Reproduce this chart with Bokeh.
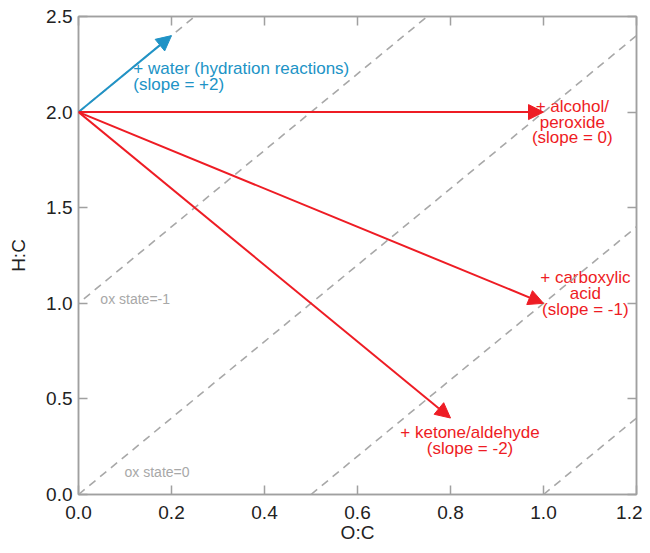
from bokeh.plotting import figure
from bokeh.models import (Range1d, LinearAxis, Arrow, NormalHead, ColumnDataSource,
                          Slope, NumeralTickFormatter, FixedTicker)
from bokeh.core.properties import value
from bokeh.embed import file_html
from bokeh.resources import INLINE

# Data
x_ticks = [0.0, 0.2, 0.4, 0.6, 0.8, 1.0, 1.2]
y_ticks = [0.0, 0.5, 1.0, 1.5, 2.0, 2.5]

ox_intercepts = [2, 1, 0, -1, -2]     # H:C = 2*O:C + c
ox_slope = 2

start_oc = 0.0
start_hc = 2.0
blue_end_oc = [0.2]
blue_end_hc = [2.4]
red_end_oc = [1.0, 1.0, 0.8]
red_end_hc = [2.0, 1.0, 0.4]

blue_label_x = [0.118]
blue_label_y = [2.188]
blue_labels = ["+ water (hydration reactions)\n(slope = +2)"]

red_label_x = [1.062, 1.090, 0.842]
red_label_y = [1.948, 1.052, 0.281]
red_labels = ["+ alcohol/\nperoxide\n(slope = 0)",
              "+ carboxylic\nacid\n(slope = -1)",
              "+ ketone/aldehyde\n(slope = -2)"]

ox_label_x = [0.047, 0.099]
ox_label_y = [1.02, 0.119]
ox_labels = ["ox state=-1", "ox state=0"]

BLUE = "#2093c6"
RED = "#ee1c24"
GRAY = "#a8a8a8"
AXGRAY = "#a0a0a0"
FONT = "Liberation Sans"

p = figure(width=642, height=545, output_backend="svg", toolbar_location=None,
           x_range=Range1d(0, 1.2), y_range=Range1d(0, 2.5),
           min_border_left=78, min_border_right=6, min_border_top=16, min_border_bottom=40,
           x_axis_label="O:C", y_axis_label="H:C")
p.grid.visible = False
p.outline_line_color = AXGRAY
p.outline_line_width = 1.5
p.background_fill_color = "white"

for ax in (p.xaxis[0], p.yaxis[0]):
    ax.axis_line_color = AXGRAY
    ax.axis_line_width = 1.5
    ax.major_tick_line_color = AXGRAY
    ax.major_tick_line_width = 1.5
    ax.major_tick_in = 9
    ax.major_tick_out = 0
    ax.minor_tick_line_color = None
    ax.major_label_text_font = FONT
    ax.major_label_text_font_size = "19px"
    ax.major_label_text_color = "#222222"
    ax.axis_label_text_font = FONT
    ax.axis_label_text_font_size = "19px"
    ax.axis_label_text_font_style = "normal"
    ax.axis_label_text_color = "#222222"
    ax.formatter = NumeralTickFormatter(format="0.0")

p.xaxis[0].ticker = FixedTicker(ticks=x_ticks)
p.yaxis[0].ticker = FixedTicker(ticks=y_ticks)
p.xaxis[0].major_label_standoff = 11
p.xaxis[0].axis_label_standoff = 0
p.yaxis[0].major_label_standoff = 6
p.yaxis[0].axis_label_standoff = 14

for loc, ticks in (("above", x_ticks), ("right", y_ticks)):
    ax = LinearAxis(ticker=FixedTicker(ticks=ticks), major_label_text_font_size="0px",
                    major_label_text_color=None,
                    major_label_standoff=0, axis_line_color=AXGRAY, axis_line_width=1.5,
                    major_tick_line_color=AXGRAY, major_tick_line_width=1.5,
                    major_tick_in=9, major_tick_out=0, minor_tick_line_color=None)
    p.add_layout(ax, loc)

for c in ox_intercepts:
    p.add_layout(Slope(gradient=ox_slope, y_intercept=c, line_color=GRAY,
                       line_width=1.6, line_dash="8 6"))

blue_src = ColumnDataSource(dict(x0=[start_oc] * len(blue_end_oc), y0=[start_hc] * len(blue_end_oc),
                                 x1=blue_end_oc, y1=blue_end_hc))
red_src = ColumnDataSource(dict(x0=[start_oc] * len(red_end_oc), y0=[start_hc] * len(red_end_oc),
                                x1=red_end_oc, y1=red_end_hc))

p.add_layout(Arrow(source=blue_src, x_start="x0", y_start="y0", x_end="x1", y_end="y1",
                   line_color=BLUE, line_width=2,
                   end=NormalHead(size=15, fill_color=BLUE, line_color=BLUE)))
p.add_layout(Arrow(source=red_src, x_start="x0", y_start="y0", x_end="x1", y_end="y1",
                   line_color=RED, line_width=2,
                   end=NormalHead(size=15, fill_color=RED, line_color=RED)))

p.text(x=blue_label_x, y=blue_label_y, text=blue_labels, text_color=BLUE,
       text_font=value(FONT), text_font_size="17px", text_align="left",
       text_baseline="middle", text_line_height=0.83)
p.text(x=red_label_x, y=red_label_y, text=red_labels, text_color=RED,
       text_font=value(FONT), text_font_size="17px", text_align="center",
       text_baseline="middle", text_line_height=0.83)
p.text(x=ox_label_x, y=ox_label_y, text=ox_labels, text_color=GRAY,
       text_font=value(FONT), text_font_size="14px", text_align="left",
       text_baseline="middle")

open("out.html", "w").write(file_html(p, INLINE))
